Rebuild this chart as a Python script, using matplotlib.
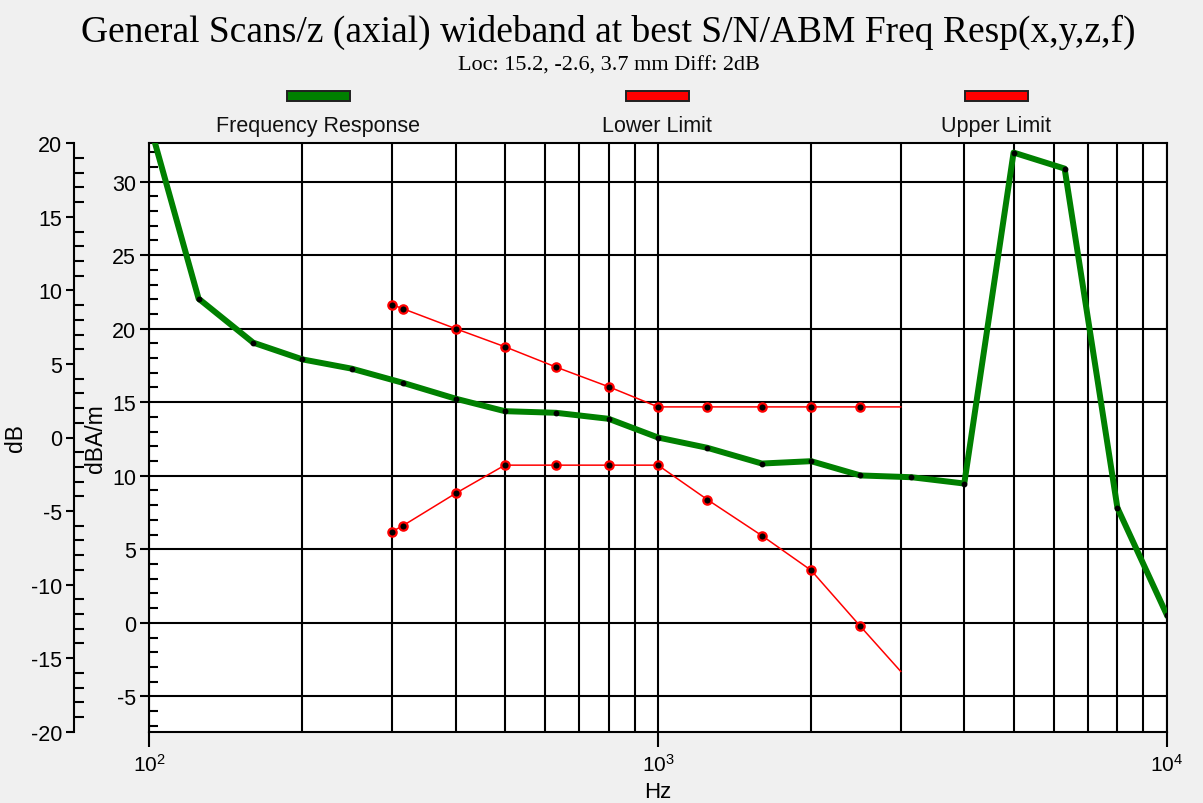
import matplotlib
matplotlib.use('Agg')
import matplotlib.pyplot as plt
from matplotlib.patches import Rectangle
from matplotlib.ticker import MultipleLocator, LogLocator, NullFormatter

# 1/3 octave bands
freq_hz = [100, 125, 160, 200, 250, 315, 400, 500, 630, 800, 1000, 1250,
           1600, 2000, 2500, 3150, 4000, 5000, 6300, 8000, 10000]
response_dba = [34.0, 22.04, 19.05, 17.91, 17.28, 16.32, 15.24, 14.39, 14.28, 13.87, 12.6, 11.9,
                10.83, 10.99, 10.02, 9.9, 9.47, 31.97, 30.88, 7.82, 0.56]

limit_freq_hz = [300, 315, 400, 500, 630, 800, 1000, 1250, 1600, 2000, 2500, 3000]
lower_limit = [6.2, 6.6, 8.8, 10.72, 10.72, 10.72, 10.72, 8.38, 5.93, 3.57, -0.24, -3.3]
upper_limit = [21.63, 21.36, 20.0, 18.77, 17.39, 16.05, 14.68, 14.68, 14.68, 14.68, 14.68, 14.68]

legend_labels = ['Frequency Response', 'Lower Limit', 'Upper Limit']
legend_colors = ['green', 'red', 'red']

title = 'General Scans/z (axial) wideband at best S/N/ABM Freq Resp(x,y,z,f)'
subtitle = 'Loc: 15.2, -2.6, 3.7 mm Diff: 2dB'

W, H = 1203, 804
sans = 'Liberation Sans'
serif = 'Liberation Serif'
plt.rcParams['axes.unicode_minus'] = False


def draw_legend(fig):
    centers = [318, 657, 996]
    for cx, label, color in zip(centers, legend_labels, legend_colors):
        fig.patches.append(Rectangle(((cx - 31) / W, 1 - 102 / H), 63 / W, 10 / H,
                                     transform=fig.transFigure, facecolor=color,
                                     edgecolor='#202020', linewidth=1.4))
        fig.text(cx / W, 1 - 132 / H, label, ha='center', va='baseline',
                 fontsize=15.5, family=sans, color='#111111')


def main():
    fig = plt.figure(figsize=(W / 100, H / 100), dpi=100, facecolor='#f0f0f0')
    ax = fig.add_axes([149.3 / W, (H - 732.7) / H, 1017.4 / W, 588.4 / H])
    ax.set_facecolor('white')

    ax.plot(freq_hz, response_dba, color='green', linewidth=4.3, zorder=3,
            marker='o', markersize=3.2, markerfacecolor='black', markeredgecolor='black')
    ax.plot(limit_freq_hz, upper_limit, color='red', linewidth=1.1, zorder=4,
            marker='o', markersize=6, markerfacecolor='black', markeredgecolor='red',
            markeredgewidth=1.6, markevery=list(range(len(limit_freq_hz) - 1)))
    ax.plot(limit_freq_hz, lower_limit, color='red', linewidth=1.1, zorder=4,
            marker='o', markersize=6, markerfacecolor='black', markeredgecolor='red',
            markeredgewidth=1.6, markevery=list(range(len(limit_freq_hz) - 1)))

    ax.set_xscale('log')
    ax.set_xlim(100, 10000)
    ax.set_ylim(-7.4, 32.6)
    ax.xaxis.set_major_locator(LogLocator(base=10))
    ax.xaxis.set_minor_locator(LogLocator(base=10, subs=range(2, 10)))
    ax.xaxis.set_minor_formatter(NullFormatter())
    ax.yaxis.set_major_locator(MultipleLocator(5))
    ax.yaxis.set_minor_locator(MultipleLocator(1))

    ax.grid(which='major', color='black', linewidth=1.5)
    ax.grid(which='minor', axis='x', color='black', linewidth=1.5)
    ax.set_axisbelow(True)
    for s in ax.spines.values():
        s.set_linewidth(1.5)
        s.set_color('black')

    ax.tick_params(axis='x', which='major', direction='out', length=11, width=1.5,
                   pad=4, labelsize=15)
    ax.tick_params(axis='x', which='minor', length=0)
    ax.tick_params(axis='y', which='major', direction='out', length=6.5, width=1.5,
                   pad=3, labelsize=15.5)
    ax.tick_params(axis='y', which='minor', direction='in', length=6.5, width=1.5)
    for lbl in ax.get_xticklabels() + ax.get_yticklabels():
        lbl.set_family(sans)

    ax.set_xlabel('Hz', fontsize=16, family=sans, labelpad=5)
    ax.set_ylabel('dBA/m', fontsize=16.5, family=sans)
    ax.yaxis.set_label_coords(-0.0416, 0.5)

    # outer dB scale on the far left
    ax2 = ax.twinx()
    ax2.set_ylim(-20, 20)
    ax2.yaxis.set_ticks_position('left')
    ax2.yaxis.set_label_position('left')
    ax2.spines['left'].set_position(('outward', 54))
    for side in ['right', 'top', 'bottom']:
        ax2.spines[side].set_visible(False)
    ax2.spines['left'].set_linewidth(1.5)
    ax2.yaxis.set_major_locator(MultipleLocator(5))
    ax2.yaxis.set_minor_locator(MultipleLocator(1))
    ax2.tick_params(axis='y', which='major', direction='out', length=5.5, width=1.5,
                    pad=3, labelsize=15.5)
    ax2.tick_params(axis='y', which='minor', direction='in', length=7, width=1.5)
    for lbl in ax2.get_yticklabels():
        lbl.set_family(sans)
    ax2.set_ylabel('dB', fontsize=16.5, family=sans)
    ax2.yaxis.set_label_coords(-0.120, 0.5)

    fig.text(608 / W, 1 - 32 / H, title, ha='center', va='center',
             fontsize=27, family=serif)
    fig.text(609 / W, 1 - 66 / H, subtitle, ha='center', va='center',
             fontsize=16, family=serif)
    draw_legend(fig)

    fig.savefig('out.png', dpi=100, facecolor=fig.get_facecolor())


if __name__ == "__main__":
    main()
